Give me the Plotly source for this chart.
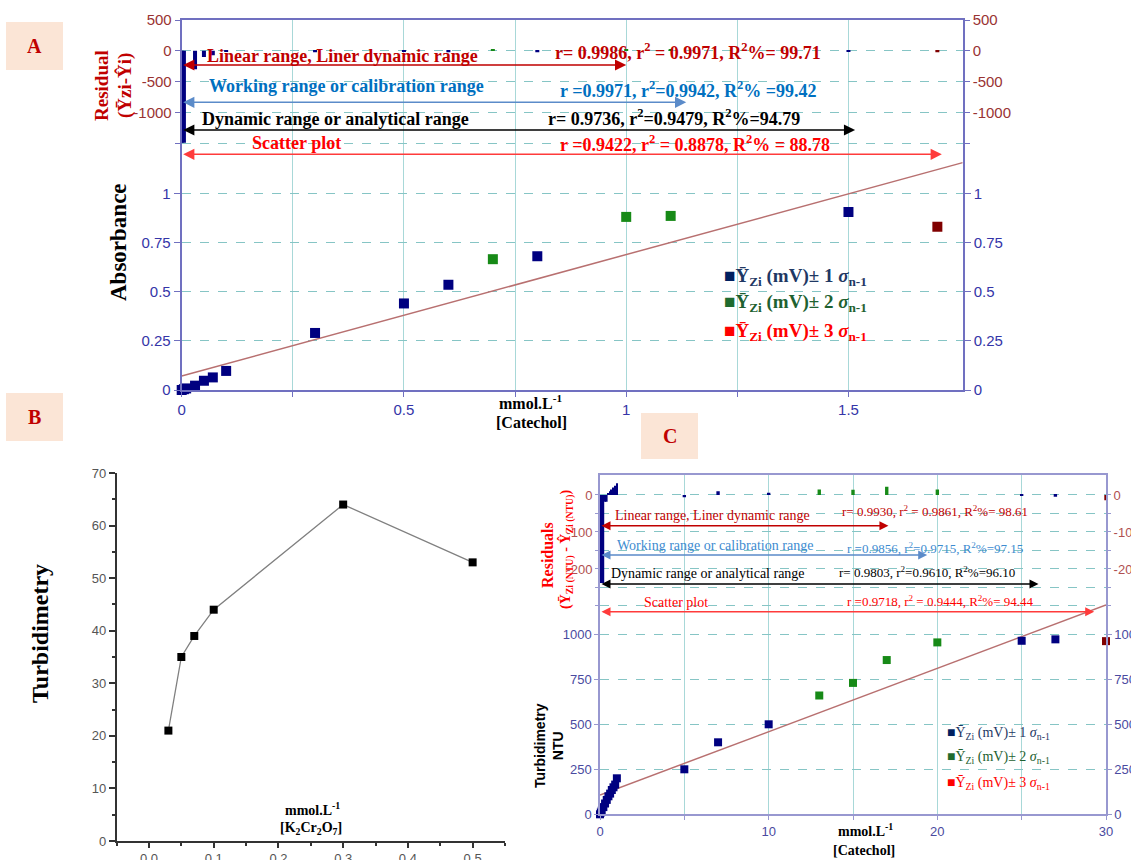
import numpy as np
import plotly.graph_objects as go

W, H = 1131, 860


def px(xp):
    return xp / W


def py(yp):
    return 1 - yp / H


# ---------------- Panel A : absorbance vs catechol ----------------
a_conc_1s = [0, 0.005, 0.01, 0.03, 0.05, 0.07, 0.1, 0.3, 0.5, 0.6, 0.8, 1.5]
a_abs_1s = [0.0, 0.004, 0.008, 0.022, 0.047, 0.064, 0.097, 0.29, 0.44, 0.535, 0.68, 0.905]
a_conc_2s = [0.7, 1.0, 1.1]
a_abs_2s = [0.665, 0.88, 0.885]
a_conc_3s = [1.7]
a_abs_3s = [0.83]

a_resid_conc = [0, 0.005, 0.03, 0.05, 0.07, 0.1, 0.3, 0.5, 0.6, 0.7, 0.8, 1.0, 1.1, 1.5, 1.7]
a_resid = [-1490, -1490, -300, -100, -70, -20, -25, -15, -25, 30, -25, 20, 25, -20, -25]
a_resid_band = [1, 1, 1, 1, 1, 1, 1, 1, 1, 2, 1, 2, 2, 1, 3]

a_fit = [0.071, 0.6175]  # intercept, slope
a_xmax = 1.757

a_range_names = ["Linear range, Liner dynamic range",
                 "Working range or calibration range",
                 "Dynamic range or analytical range",
                 "Scatter plot"]
a_range_stats = ["r= 0.9986, r<sup>2</sup> = 0.9971, R<sup>2</sup>%= 99.71",
                 "r =0.9971, r<sup>2</sup>=0.9942, R<sup>2</sup>% =99.42",
                 "r= 0.9736, r<sup>2</sup>=0.9479, R<sup>2</sup>%=94.79",
                 "r =0.9422, r<sup>2</sup> = 0.8878, R<sup>2</sup>% = 88.78"]
a_range_end = [1.0, 1.135, 1.515, 1.71]

# ---------------- Panel B : turbidimetry vs K2Cr2O7 ----------------
b_conc = [0.03, 0.05, 0.07, 0.1, 0.3, 0.5]
b_turb = [21, 35, 39, 44, 64, 53]

# ---------------- Panel C : turbidimetry vs catechol ----------------
c_conc_1s = [0, 0.05, 0.1, 0.2, 0.3, 0.4, 0.5, 0.6, 0.7, 0.8, 0.9, 1.0, 5, 7, 10, 25, 27]
c_ntu_1s = [0, 10, 20, 40, 60, 80, 100, 115, 135, 150, 165, 200, 250, 400, 500, 964, 972]
c_conc_2s = [13, 15, 17, 20]
c_ntu_2s = [660, 730, 857, 955]
c_conc_3s = [30]
c_ntu_3s = [962]

c_resid_conc = [0, 0.1, 0.2, 0.3, 0.4, 0.5, 0.6, 0.7, 0.8, 0.9, 1.0,
                5, 7, 10, 13, 15, 17, 20, 25, 27, 30]
c_resid = [-238, -238, -238, -18, -18, 5, 10, 15, 20, 25, 32,
           -6, 10, 6, 15, 14, 22, 15, -3, -5, -14]
c_resid_band = [1] * 14 + [2, 2, 2, 2, 1, 1, 3]
c_resid_width = [0.1] * 11 + [0.2] * 10

c_fit = [107, 35.2]  # intercept, slope
c_xmax = 30

c_range_stats = ["r= 0.9930, r<sup>2</sup> = 0.9861, R<sup>2</sup>%= 98.61",
                 "r =0.9856, r<sup>2</sup>=0.9715, R<sup>2</sup>%=97.15",
                 "r= 0.9803, r<sup>2</sup>=0.9610, R<sup>2</sup>%=96.10",
                 "r =0.9718, r<sup>2</sup> = 0.9444, R<sup>2</sup>%= 94.44"]
c_range_end = [17.1, 19.4, 26.0, 29.3]

# ---------------- styling ----------------
BAND_COLORS = {1: "#000080", 2: "#178A17", 3: "#800000"}
LEGEND_SQ = ["#002060", "#1F6B2F", "#FF0000"]
LEGEND_TXT = ["#1F3864", "#1E6130", "#FF0000"]
RANGE_TXT = ["#C00000", "#0070C0", "#000000", "#FF0000"]
RANGE_ARROW = ["#C00000", "#5B8BC9", "#000000", "#FF3B3B"]
C_RANGE_TXT = ["#C00000", "#3D8BD0", "#000000", "#FF0000"]

A_AXIS = "#7070C0"
C_AXIS = "#9898D0"
GRID_H = "#86C5C5"
GRID_V = "#A8D8D8"
TICK_BLUE = "#3535A8"
TICK_RES = "#993333"
FIT_COLOR = "#B87070"
SERIF = "Liberation Serif, Times New Roman, serif"
SANS = "Liberation Sans, Arial, sans-serif"

fig = go.Figure()

# ---- Panel A traces ----
fig.add_trace(go.Bar(x=a_resid_conc, y=a_resid, width=0.009,
                     marker=dict(color=[BAND_COLORS[b] for b in a_resid_band], line=dict(width=0)),
                     xaxis="x", yaxis="y2", hoverinfo="skip"))
xa = np.array([0, a_xmax])
fig.add_trace(go.Scatter(x=xa, y=a_fit[0] + a_fit[1] * xa, mode="lines",
                         line=dict(color=FIT_COLOR, width=1.5), xaxis="x", yaxis="y"))
for cx, cy, band in [(a_conc_1s, a_abs_1s, 1), (a_conc_2s, a_abs_2s, 2), (a_conc_3s, a_abs_3s, 3)]:
    fig.add_trace(go.Scatter(x=cx, y=cy, mode="markers", cliponaxis=False,
                             marker=dict(symbol="square", size=10, color=BAND_COLORS[band]),
                             xaxis="x", yaxis="y"))
fig.add_trace(go.Scatter(x=[], y=[], xaxis="x", yaxis="y3"))
fig.add_trace(go.Scatter(x=[], y=[], xaxis="x", yaxis="y4"))

# ---- Panel B trace ----
fig.add_trace(go.Scatter(x=b_conc, y=b_turb, mode="lines+markers", cliponaxis=False,
                         line=dict(color="#808080", width=1.3),
                         marker=dict(symbol="square", size=8, color="#000000"),
                         xaxis="x2", yaxis="y5"))

# ---- Panel C traces ----
fig.add_trace(go.Bar(x=c_resid_conc, y=c_resid, width=c_resid_width,
                     marker=dict(color=[BAND_COLORS[b] for b in c_resid_band], line=dict(width=0)),
                     xaxis="x3", yaxis="y7", hoverinfo="skip"))
xc = np.array([0, c_xmax])
fig.add_trace(go.Scatter(x=xc, y=c_fit[0] + c_fit[1] * xc, mode="lines",
                         line=dict(color=FIT_COLOR, width=1.5), xaxis="x3", yaxis="y6"))
for cx, cy, band in [(c_conc_1s, c_ntu_1s, 1), (c_conc_2s, c_ntu_2s, 2), (c_conc_3s, c_ntu_3s, 3)]:
    fig.add_trace(go.Scatter(x=cx, y=cy, mode="markers", cliponaxis=False,
                             marker=dict(symbol="square", size=8, color=BAND_COLORS[band]),
                             xaxis="x3", yaxis="y6"))
fig.add_trace(go.Scatter(x=[], y=[], xaxis="x3", yaxis="y8"))
fig.add_trace(go.Scatter(x=[], y=[], xaxis="x3", yaxis="y9"))


def tick_font(color, size=15):
    return dict(family=SANS, size=size, color=color)


common = dict(zeroline=False, automargin=False, fixedrange=True)

# ---- Panel A axes ----
a_dom_x = [px(181.7), px(962.7)]
a_dom_y = [py(390), py(20)]
a_abs_range = [0, 1.881]
a_res_range = [-5500, 500]
a_abs_ticks = [0, 0.25, 0.5, 0.75, 1]
a_abs_text = ["0", "0.25", "0.5", "0.75", "1"]
a_res_ticks = [500, 0, -500, -1000, -1500]
a_res_text = ["500", "0", "-500", "-1000", ""]

layout_axes = dict(
    xaxis=dict(domain=a_dom_x, range=[0, a_xmax], anchor="y",
               tickvals=[0, 0.25, 0.5, 0.75, 1, 1.25, 1.5],
               ticktext=["0", "", "0.5", "", "1", "", "1.5"],
               ticks="outside", ticklen=5, tickcolor=A_AXIS,
               showline=True, mirror=True, linecolor=A_AXIS, linewidth=2,
               showgrid=True, gridcolor=GRID_V, gridwidth=1,
               tickfont=tick_font(TICK_BLUE), **common),
    yaxis=dict(domain=a_dom_y, range=a_abs_range, anchor="x",
               tickvals=a_abs_ticks, ticktext=a_abs_text,
               ticks="outside", ticklen=6, tickcolor=A_AXIS,
               showline=True, linecolor=A_AXIS, linewidth=2,
               showgrid=True, gridcolor=GRID_H, griddash="dash",
               tickfont=tick_font(TICK_BLUE), **common),
    yaxis2=dict(overlaying="y", side="left", anchor="x", range=a_res_range,
                tickvals=a_res_ticks, ticktext=a_res_text,
                ticks="outside", ticklen=6, tickcolor=A_AXIS, showline=False,
                showgrid=True, gridcolor=GRID_H, griddash="dash",
                tickfont=tick_font(TICK_RES), **common),
    yaxis3=dict(overlaying="y", side="right", anchor="x", range=a_abs_range,
                tickvals=a_abs_ticks, ticktext=a_abs_text,
                ticks="outside", ticklen=6, tickcolor=A_AXIS,
                showline=True, linecolor=A_AXIS, linewidth=2, showgrid=False,
                tickfont=tick_font(TICK_BLUE), **common),
    yaxis4=dict(overlaying="y", side="right", anchor="x", range=a_res_range,
                tickvals=a_res_ticks, ticktext=a_res_text,
                ticks="outside", ticklen=6, tickcolor=A_AXIS, showline=False, showgrid=False,
                tickfont=tick_font(TICK_RES), **common),
)

# ---- Panel B axes ----
layout_axes.update(
    xaxis2=dict(domain=[px(116.6), px(505)], range=[-0.05, 0.55], anchor="y5",
                tick0=0, dtick=0.1, tickformat=".1f",
                ticks="outside", ticklen=5, tickwidth=1.5, tickcolor="#333333",
                minor=dict(dtick=0.05, ticks="outside", ticklen=3, tickcolor="#333333"),
                showline=True, linecolor="#333333", linewidth=1.5, showgrid=False,
                tickfont=tick_font("#555555", 13), **common),
    yaxis5=dict(domain=[py(841), py(473)], range=[0, 70], anchor="x2",
                tick0=0, dtick=10,
                ticks="outside", ticklen=6, tickwidth=1.5, tickcolor="#333333",
                minor=dict(dtick=5, ticks="outside", ticklen=3, tickcolor="#333333"),
                showline=True, linecolor="#333333", linewidth=1.5, showgrid=False,
                tickfont=tick_font("#555555", 13), **common),
)

# ---- Panel C axes ----
c_ntu_range = [0, 1885]
c_res_range = [-863, 54]
c_ntu_ticks = [0, 250, 500, 750, 1000]
c_res_ticks = [0, -50, -100, -150, -200, -250, -300]
c_res_text = ["0", "", "-100", "", "-200", "", ""]
layout_axes.update(
    xaxis3=dict(domain=[px(600), px(1106)], range=[0, c_xmax], anchor="y6",
                tickvals=[0, 5, 10, 15, 20, 25, 30],
                ticktext=["0", "", "10", "", "20", "", "30"],
                ticks="outside", ticklen=4, tickcolor=C_AXIS,
                showline=True, mirror=True, linecolor=C_AXIS, linewidth=1.5,
                showgrid=True, gridcolor=GRID_V, gridwidth=1,
                tickfont=tick_font("#4A4AA0", 13), **common),
    yaxis6=dict(domain=[py(814.3), py(475)], range=c_ntu_range, anchor="x3",
                tickvals=c_ntu_ticks, ticks="outside", ticklen=4, tickcolor=C_AXIS,
                showline=True, linecolor=C_AXIS, linewidth=1.5,
                showgrid=True, gridcolor=GRID_H, griddash="dash",
                tickfont=tick_font("#4A4AA0", 13), **common),
    yaxis7=dict(overlaying="y6", side="left", anchor="x3", range=c_res_range,
                tickvals=c_res_ticks, ticktext=c_res_text,
                ticks="outside", ticklen=4, tickcolor=C_AXIS, showline=False,
                showgrid=True, gridcolor=GRID_H, griddash="dash",
                tickfont=tick_font("#B05050", 13), **common),
    yaxis8=dict(overlaying="y6", side="right", anchor="x3", range=c_ntu_range,
                tickvals=c_ntu_ticks, ticks="outside", ticklen=4, tickcolor=C_AXIS,
                showline=True, linecolor=C_AXIS, linewidth=1.5, showgrid=False,
                tickfont=tick_font("#4A4AA0", 13), **common),
    yaxis9=dict(overlaying="y6", side="right", anchor="x3", range=c_res_range,
                tickvals=c_res_ticks, ticktext=c_res_text,
                ticks="outside", ticklen=4, tickcolor=C_AXIS, showline=False, showgrid=False,
                tickfont=tick_font("#B05050", 13), **common),
)

# ---------------- annotations ----------------
ann = []


def note(x, y, text, size, color, family=SERIF, xanchor="left", angle=0):
    ann.append(dict(x=px(x), y=py(y), xref="paper", yref="paper", text=text,
                    showarrow=False, xanchor=xanchor, yanchor="middle", textangle=angle,
                    font=dict(family=family, size=size, color=color)))


def span(x_end, y, color, xref, width, size):
    ann.append(dict(x=x_end, y=py(y), xref=xref, yref="paper",
                    ax=0, ay=0, axref=xref, ayref="pixel", text="", showarrow=True,
                    arrowside="end+start", arrowhead=2, startarrowhead=2,
                    arrowsize=size, startarrowsize=size, arrowwidth=width,
                    arrowcolor=color, standoff=0, startstandoff=0))


# Panel A ranges
a_arrow_y = [65, 102.3, 130, 154.3]
a_name_pos = [(205, 56), (207, 86), (200, 119), (250, 143)]
a_stat_pos = [(553, 51), (558, 89), (546, 118), (558, 144)]
for i in range(4):
    span(a_range_end[i], a_arrow_y[i], RANGE_ARROW[i], "x", 1.6, 1.4)
    note(*a_name_pos[i], "<b>%s</b>" % a_range_names[i], 18, RANGE_TXT[i])
    note(*a_stat_pos[i], "<b>%s</b>" % a_range_stats[i], 18, RANGE_TXT[i])

# Panel C ranges
c_arrow_y = [525.7, 555, 584, 611.7]
c_name_pos = [(613, 515), (615, 545), (609, 573), (642, 602)]
c_stat_pos = [(840, 511), (845, 548), (837, 572), (845, 601)]
for i in range(4):
    span(c_range_end[i], c_arrow_y[i], RANGE_ARROW[i], "x3", 1.5, 1.2)
    note(*c_name_pos[i], a_range_names[i], 14, C_RANGE_TXT[i])
    note(*c_stat_pos[i], c_range_stats[i], 13, C_RANGE_TXT[i])

# Legends
for i, (ya, yc) in enumerate(zip([277, 303, 332], [733, 757, 783])):
    lab = "Ȳ<sub>Zi</sub> (mV)± %d <i>σ</i><sub>n-1</sub>" % (i + 1)
    note(722, ya, "<b><span style='color:%s'>■</span>%s</b>" % (LEGEND_SQ[i], lab), 19, LEGEND_TXT[i])
    note(945, yc, "<span style='color:%s'>■</span>%s" % (LEGEND_SQ[i], lab), 14, LEGEND_TXT[i])

# Axis titles
note(118, 242, "<b>Absorbance</b>", 23, "#000000", xanchor="center", angle=-90)
note(102, 86, "<b>Residual</b>", 19, "#C00000", xanchor="center", angle=-90)
note(125, 86, "<b>(Ȳzi-Ŷi)</b>", 19, "#C00000", xanchor="center", angle=-90)
note(531, 402, "<b>mmol.L<sup>-1</sup></b>", 16, "#000000", xanchor="center")
note(531, 422, "<b>[Catechol]</b>", 16, "#000000", xanchor="center")

note(40, 634, "<b>Turbidimetry</b>", 24, "#000000", xanchor="center", angle=-90)
note(312, 809, "<b>mmol.L<sup>-1</sup></b>", 14, "#000000", xanchor="center")
note(311, 828, "<b>[K<sub>2</sub>Cr<sub>2</sub>O<sub>7</sub>]</b>", 14, "#000000", xanchor="center")

note(549, 746, "<b>Turbidimetry<br>NTU</b>", 14, "#000000", family=SANS, xanchor="center", angle=-90)
note(547, 555, "<b>Residuals</b>", 16, "#FF0000", xanchor="center", angle=-90)
note(566, 550, "<b>(Ȳ<sub>Zi (NTU)</sub> - Ŷ<sub>Zi (NTU)</sub>)</b>", 14, "#FF0000",
     xanchor="center", angle=-90)
note(865, 830, "<b>mmol.L<sup>-1</sup></b>", 14, "#000000", xanchor="center")
note(864, 850, "<b>[Catechol]</b>", 14, "#000000", xanchor="center")

# Panel letters
shapes = []
for letter, (x0, y0, x1, y1) in zip("ABC", [(6, 22, 63, 70), (6, 393, 63, 441), (641, 413, 698, 459)]):
    shapes.append(dict(type="rect", xref="paper", yref="paper",
                       x0=px(x0), x1=px(x1), y0=py(y1), y1=py(y0),
                       fillcolor="#FBE5D6", line=dict(width=0), layer="below"))
    note((x0 + x1) / 2, (y0 + y1) / 2, "<b>%s</b>" % letter, 20, "#C00000", xanchor="center")

fig.update_layout(
    width=W, height=H, margin=dict(l=0, r=0, t=0, b=0),
    paper_bgcolor="white", plot_bgcolor="white",
    showlegend=False, barmode="overlay",
    annotations=ann, shapes=shapes, **layout_axes,
)

fig.write_html("out.html")
